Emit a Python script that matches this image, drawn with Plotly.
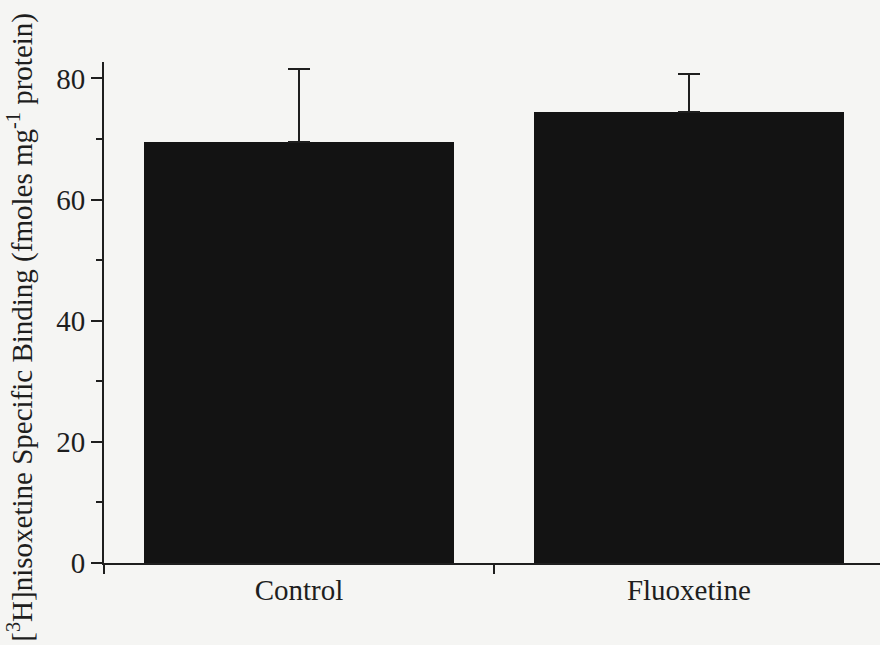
import plotly.graph_objects as go

categories = ["Control", "Fluoxetine"]
values = [69.5, 74.5]
errors_up = [12.0, 6.2]
y_ticks = [0, 20, 40, 60, 80]
y_title = "[<sup>3</sup>H]nisoxetine Specific Binding (fmoles mg<sup>-1</sup> protein)"

FONT = "Liberation Serif, Times New Roman, serif"
INK = "#1e1e1e"

fig = go.Figure(
    go.Bar(
        x=categories,
        y=values,
        width=0.795,
        marker=dict(color="#131313", line=dict(width=0)),
        error_y=dict(
            type="data",
            symmetric=False,
            array=errors_up,
            arrayminus=[0, 0],
            color=INK,
            thickness=2,
            width=11,
        ),
    )
)

fig.update_layout(
    width=880,
    height=645,
    margin=dict(l=104, r=0, t=62, b=82),
    paper_bgcolor="#f5f5f3",
    plot_bgcolor="#f5f5f3",
    showlegend=False,
    font=dict(family=FONT, size=29, color=INK),
    bargap=0,
)

fig.add_annotation(
    text=y_title,
    xref="paper", yref="paper",
    x=-0.108, y=0.47,
    xanchor="center", yanchor="middle",
    textangle=-90,
    showarrow=False,
    font=dict(family=FONT, size=29, color=INK),
)

fig.update_xaxes(
    type="category",
    range=[-0.5, 1.49],
    showline=True,
    linecolor=INK,
    linewidth=2,
    ticks="outside",
    tickson="boundaries",
    ticklen=9,
    tickwidth=2,
    tickcolor=INK,
    showgrid=False,
    zeroline=False,
    automargin=False,
    tickfont=dict(family=FONT, size=29, color=INK),
)

fig.update_yaxes(
    range=[0, 82.7],
    tickvals=y_ticks,
    showline=True,
    linecolor=INK,
    linewidth=2,
    ticks="outside",
    ticklen=11,
    tickwidth=2,
    tickcolor=INK,
    minor=dict(dtick=10, ticks="outside", ticklen=6, tickwidth=2, tickcolor=INK, showgrid=False),
    showgrid=False,
    zeroline=False,
    automargin=False,
    tickfont=dict(family=FONT, size=29, color=INK),
)

fig.write_html(
    "out.html",
    config={"displayModeBar": False},
    post_script="document.body.style.margin='0';",
)
